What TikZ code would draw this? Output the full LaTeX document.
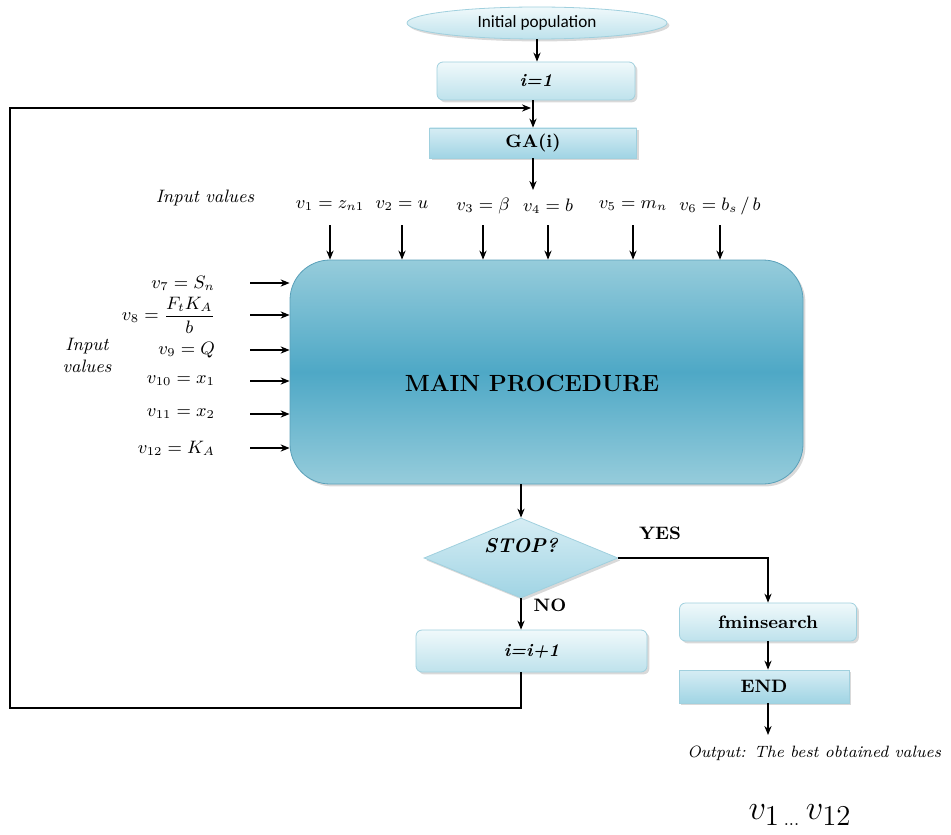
\documentclass[tikz,border=0pt]{standalone}
\usepackage{amsmath}
\usepackage{fontspec}
\usepackage{tikz}
\usetikzlibrary{arrows.meta, shapes.geometric, positioning, shadows, calc}
\newfontfamily\calibfont{Carlito}
\definecolor{paleedge}{RGB}{160,208,222}
\definecolor{paletop}{RGB}{240,249,251}
\definecolor{palebot}{RGB}{190,226,236}
\definecolor{midtop}{RGB}{214,237,244}
\definecolor{midbot}{RGB}{160,212,228}
\definecolor{mainedge}{RGB}{150,204,219}
\definecolor{maincore}{RGB}{78,168,198}
\definecolor{mainline}{RGB}{90,160,185}

\begin{document}
\begin{tikzpicture}[
  x=0.5pt, y=-0.5pt,
  shade/.style={drop shadow={shadow xshift=1.2pt, shadow yshift=-1.2pt, opacity=0.3, fill=gray}},
  rbox/.style={draw=paleedge, rounded corners=3pt, top color=paletop, bottom color=palebot,
               shade, inner sep=0pt},
  sbox/.style={draw=paleedge, top color=midtop, bottom color=midbot, shade, inner sep=0pt},
  arr/.style={-{Stealth[length=4.5pt, width=3.6pt]}, line width=0.6pt},
  lbl/.style={font=\fontsize{9}{11}\selectfont\bfseries},
  vin/.style={font=\fontsize{9}{11}\selectfont},
]
\useasboundingbox (0,0) rectangle (951,834);

% top of the chart
\node[ellipse, draw=paleedge, top color=paletop, bottom color=palebot, shade,
      minimum width=130pt, minimum height=16pt, inner sep=0pt,
      font=\calibfont\fontsize{8.6}{10}\selectfont] (init) at (537,23) {Initial population};
\node[rbox, minimum width=99pt, minimum height=19pt, lbl] (first) at (536,81) {\textit{i=1}};
\node[sbox, minimum width=103.5pt, minimum height=15pt, lbl] (ga) at (533,143) {GA(i)};
\coordinate (gaout) at (533,190);

\draw[arr] (init) -- (init |- first.north);
\draw[arr] (first.south -| ga) -- (ga.north);
\draw[arr] (ga.south) -- (gaout);

% main block
\node[draw=mainline, rounded corners=20pt, top color=mainedge, bottom color=mainedge,
      middle color=maincore, shade, minimum width=256.5pt, minimum height=112pt]
      (main) at (546.5,372) {};
\node[font=\fontsize{11.7}{14}\selectfont\bfseries] (maintxt) at (532,383) {MAIN PROCEDURE};

% input values, top row
\node[font=\fontsize{9}{11}\selectfont\itshape] (intop) at (205,198) {Input values};
\coordinate (toprow) at (0,225);
\foreach \nm/\xx/\val in {v1/330/{v_1 = z_{n1}}, v2/402/{v_2 = u}, v3/483/{v_3 = \beta},
                          v4/548/{v_4 = b}, v5/633/{v_5 = m_n}, v6/720/{v_6 = b_s\,/\,b}}{
  \node[vin] (\nm) at (\xx,206) {$\val$};
  \draw[arr] (\nm |- toprow) -- (\nm |- main.north);
}

% input values, left column
\node[font=\fontsize{9}{11}\selectfont\itshape, align=center] (inleft) at (87,355) {Input\\values};
\coordinate (leftcol) at (250,0);
\foreach \nm/\yy/\val in {v7/283/{v_7 = S_n}, v8/315/{v_8 = \dfrac{F_t K_A}{b}}, v9/350/{v_9 = Q},
                          v10/381/{v_{10} = x_1}, v11/414/{v_{11} = x_2}, v12/448/{v_{12} = K_A}}{
  \node[vin, anchor=east] (\nm) at (222,\yy) {$\val$};
  \draw[arr] (leftcol |- \nm) -- (main.west |- \nm);
}

% decision
\node[diamond, draw=paleedge, top color=midtop, bottom color=midbot, shade,
      minimum width=97pt, minimum height=40pt, inner sep=0pt, aspect=2.4] (stop) at (521,558) {};
\node[font=\fontsize{10}{12}\selectfont\bfseries\itshape] (stoptxt) at (521,546) {STOP?};
\node[lbl] (yes) at (660,533) {YES};
\node[lbl] (no) at (550,605) {NO};

\node[rbox, minimum width=115.5pt, minimum height=21pt, lbl] (next) at (531.5,651) {\textit{i=i+1}};
\node[rbox, minimum width=88.5pt, minimum height=19pt, lbl] (fmin) at (768,622) {fminsearch};
\node[sbox, minimum width=85pt, minimum height=16.5pt, lbl] (finish) at (764,686.5) {END};
\coordinate (outtip) at (768,735);

\draw[arr] (stop |- main.south) -- (stop.north);
\draw[arr] (stop.south) -- (stop |- next.north);
\draw[arr] (stop.east) -| (fmin.north);
\draw[arr] (fmin.south) -- (fmin.south |- finish.north);
\draw[arr] (finish.south -| outtip) -- (outtip);

% loop back to GA
\coordinate (lbot) at (10,708);
\coordinate (ltop) at (10,108);
\coordinate (join) at (531,108);
\draw[arr] (stop |- next.south) |- (lbot) -- (ltop) -- (join);

% output
\node[font=\fontsize{8.2}{10}\selectfont\itshape, anchor=east] (outtxt) at (948,753) {Output: The best obtained values};
\node[font=\fontsize{19}{22}\selectfont] (outvals) at (800,815) {$v_{1\,\scriptscriptstyle\ldots}\,v_{12}$};

\end{tikzpicture}
\end{document}
